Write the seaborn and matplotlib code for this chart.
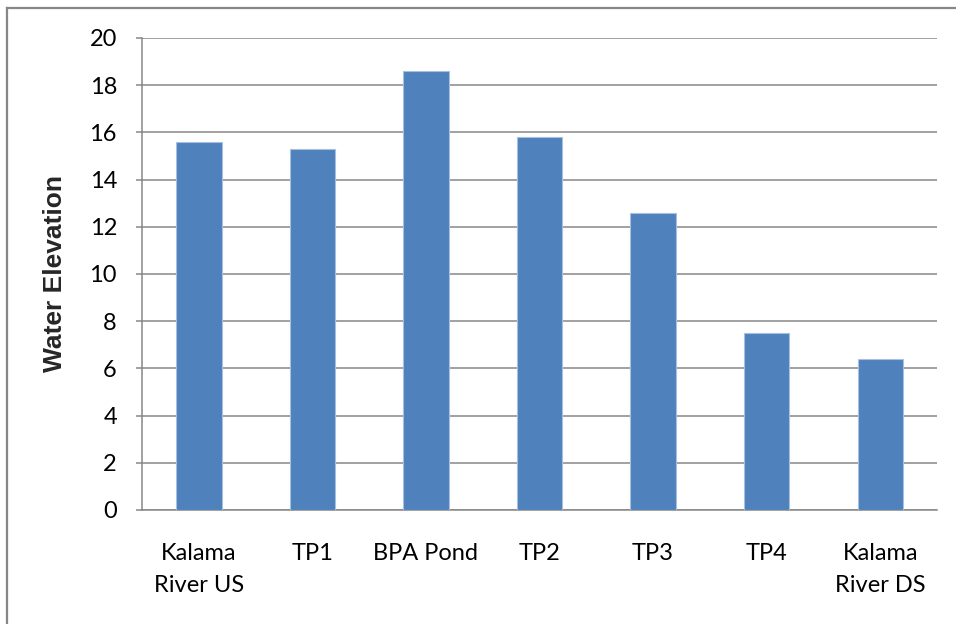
import matplotlib
matplotlib.use("Agg")
import matplotlib.pyplot as plt
from matplotlib.lines import Line2D
import seaborn as sns
import pandas as pd

# Sampling locations and measured water surface elevations
locations = ["Kalama\nRiver US", "TP1", "BPA Pond", "TP2", "TP3", "TP4", "Kalama\nRiver DS"]
elevations = [15.6, 15.3, 18.6, 15.8, 12.6, 7.5, 6.4]
y_ticks = [0, 2, 4, 6, 8, 10, 12, 14, 16, 18, 20]

df = pd.DataFrame({"location": locations, "elevation": elevations})

sns.set_theme(style="white")
plt.rcParams["font.family"] = ["Lato", "DejaVu Sans"]

GRAY = "#878787"
BAR = "#4F81BD"

fig = plt.figure(figsize=(9.56, 6.24), dpi=100)
ax = fig.add_axes([142 / 956, 1 - 510 / 624, (937 - 142) / 956, (510 - 38) / 624])

sns.barplot(data=df, x="location", y="elevation", color=BAR, width=0.4,
            edgecolor="#A7C0E0", linewidth=0.8, saturation=1, ax=ax, zorder=3)

ax.set_ylim(0, 20)
ax.set_yticks(y_ticks)
ax.set_yticklabels([str(t) for t in y_ticks])
ax.set_xlim(-0.5, len(locations) - 0.5)

ax.yaxis.grid(True, color=GRAY, linewidth=1.1, zorder=0)
ax.set_axisbelow(True)

for side in ["top", "right"]:
    ax.spines[side].set_visible(False)
for side in ["left", "bottom"]:
    ax.spines[side].set_color(GRAY)
    ax.spines[side].set_linewidth(1.1)

ax.tick_params(axis="y", which="major", length=4, width=1.1, color=GRAY,
               direction="out", left=True, pad=14, labelsize=17, labelcolor="black")
ax.tick_params(axis="x", length=0, pad=24, labelsize=17, labelcolor="black")
for lbl in ax.get_xticklabels():
    lbl.set_linespacing(1.6)

ax.set_xlabel("")
ax.set_ylabel("Water Elevation", fontsize=19, fontweight="bold",
              family=["Liberation Sans", "DejaVu Sans"])
ax.yaxis.set_label_coords(-(142 - 67) / 795, 0.5)

# Chart-area frame (top and left edges)
fig.add_artist(Line2D([6.5 / 956, 6.5 / 956], [0, 1 - 7.5 / 624],
                      transform=fig.transFigure, color=GRAY, linewidth=1.6,
                      solid_capstyle="projecting"))
fig.add_artist(Line2D([6.5 / 956, 1], [1 - 7.5 / 624, 1 - 7.5 / 624],
                      transform=fig.transFigure, color=GRAY, linewidth=1.6,
                      solid_capstyle="projecting"))

fig.savefig("out.png", dpi=100)
